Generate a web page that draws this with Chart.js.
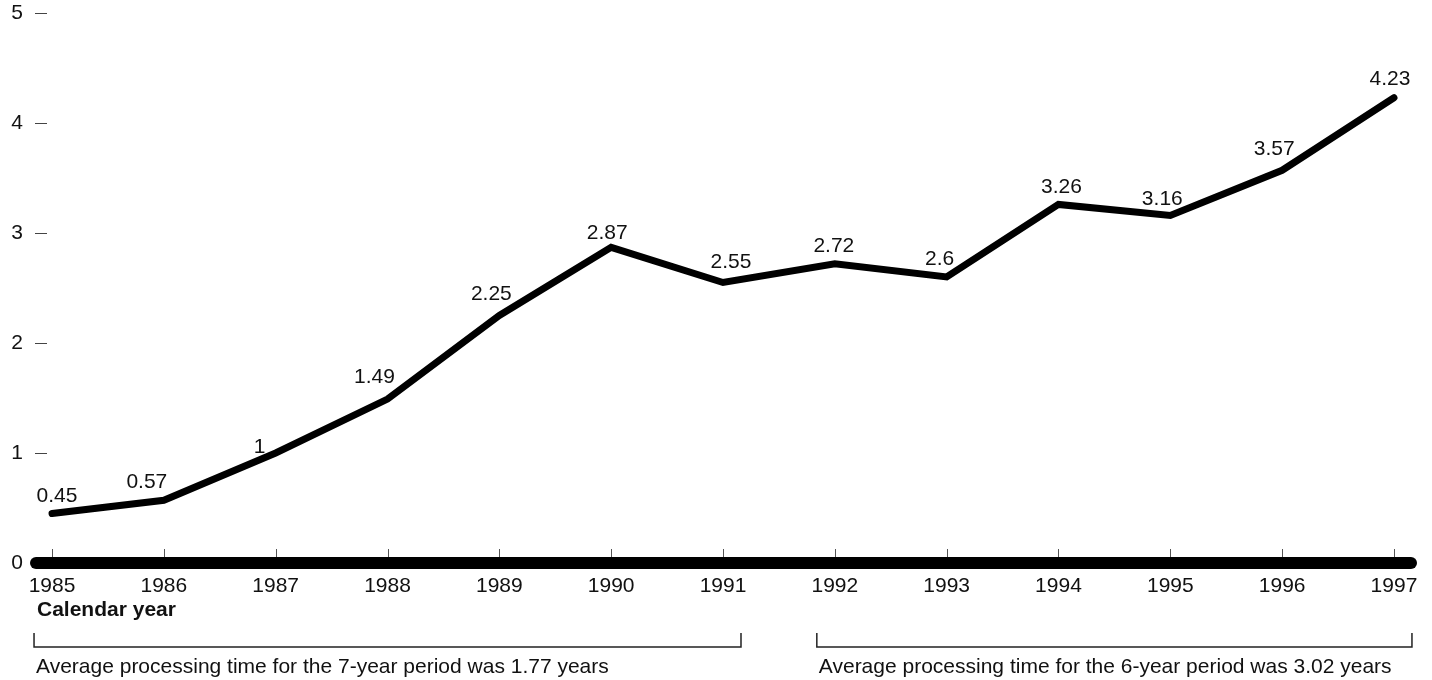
<!DOCTYPE html>
<html>
<head>
<meta charset="utf-8">
<script src="https://cdn.jsdelivr.net/npm/chart.js@4/dist/chart.umd.min.js"></script>
<style>
  html, body { margin: 0; padding: 0; background: #fff; }
  #wrap { width: 1432px; height: 680px; position: relative; }
</style>
</head>
<body>
<div id="wrap"><canvas id="grafik"></canvas></div>
<script>
const years = [1985, 1986, 1987, 1988, 1989, 1990, 1991, 1992, 1993, 1994, 1995, 1996, 1997];
const processingTime = [0.45, 0.57, 1, 1.49, 2.25, 2.87, 2.55, 2.72, 2.6, 3.26, 3.16, 3.57, 4.23];
const yTicks = [0, 1, 2, 3, 4, 5];
const xTitle = "Calendar year";
const periods = [
  { from: 1985, to: 1991, text: "Average processing time for the 7-year period was 1.77 years" },
  { from: 1992, to: 1997, text: "Average processing time for the 6-year period was 3.02 years" }
];

// label nudges (px) so numbers sit clear of the line like in the original
const labelDx = [5, -17, -16, -13, -8, -4, 8, -1, -7, 3, -8, -8, -4];
const labelDy = [-17, -18, -6, -22, -21, -14, -20, -18, -18, -17, -16, -21, -18];

const FONT = '21px "Liberation Sans", Arial, sans-serif';
const FONT_BOLD = 'bold 21px "Liberation Sans", Arial, sans-serif';

const dekor = {
  id: "dekor",
  beforeDatasetsDraw(chart) {
    const { ctx, chartArea, scales } = chart;
    const x = scales.x, y = scales.y;
    ctx.save();

    // y axis labels + little dashes
    ctx.font = FONT;
    ctx.fillStyle = "#111";
    ctx.textAlign = "right";
    ctx.textBaseline = "middle";
    yTicks.forEach(t => {
      const py = y.getPixelForValue(t);
      ctx.fillText(String(t), 23, py);
      if (t > 0) {
        ctx.strokeStyle = "#444";
        ctx.lineWidth = 1;
        ctx.beginPath();
        ctx.moveTo(35, Math.round(py) + 0.5);
        ctx.lineTo(47, Math.round(py) + 0.5);
        ctx.stroke();
      }
    });

    // small ticks above the baseline
    const y0 = y.getPixelForValue(0);
    ctx.strokeStyle = "#555";
    ctx.lineWidth = 1;
    years.forEach(yr => {
      const px = Math.round(x.getPixelForValue(yr)) + 0.5;
      ctx.beginPath();
      ctx.moveTo(px, y0 - 14);
      ctx.lineTo(px, y0 - 5);
      ctx.stroke();
    });

    // thick baseline
    ctx.strokeStyle = "#000";
    ctx.lineWidth = 12;
    ctx.lineCap = "round";
    ctx.beginPath();
    ctx.moveTo(chartArea.left + 6, y0);
    ctx.lineTo(chartArea.right - 6, y0);
    ctx.stroke();

    // year labels
    ctx.fillStyle = "#111";
    ctx.textAlign = "center";
    ctx.textBaseline = "middle";
    years.forEach(yr => ctx.fillText(String(yr), x.getPixelForValue(yr), y0 + 23));

    ctx.font = FONT_BOLD;
    ctx.textAlign = "left";
    ctx.fillText(xTitle, 37, y0 + 47);

    // period brackets and notes
    ctx.font = FONT;
    ctx.strokeStyle = "#222";
    ctx.lineWidth = 1.5;
    ctx.lineCap = "butt";
    periods.forEach(p => {
      const l = x.getPixelForValue(p.from) - 18;
      const r = x.getPixelForValue(p.to) + 18;
      const by = y0 + 84;
      ctx.beginPath();
      ctx.moveTo(l, by - 14);
      ctx.lineTo(l, by);
      ctx.lineTo(r, by);
      ctx.lineTo(r, by - 14);
      ctx.stroke();
      ctx.fillText(p.text, l + 2, y0 + 104);
    });

    ctx.restore();
  },
  afterDatasetsDraw(chart) {
    const { ctx, scales } = chart;
    ctx.save();
    ctx.font = FONT;
    ctx.fillStyle = "#111";
    ctx.textAlign = "center";
    ctx.textBaseline = "middle";
    processingTime.forEach((v, i) => {
      const px = scales.x.getPixelForValue(years[i]);
      const py = scales.y.getPixelForValue(v);
      ctx.fillText(String(v), px + labelDx[i], py + labelDy[i]);
    });
    ctx.restore();
  }
};

const ctx = document.getElementById("grafik").getContext("2d");
new Chart(ctx, {
  type: "line",
  data: {
    datasets: [{
      data: years.map((yr, i) => ({ x: yr, y: processingTime[i] })),
      borderColor: "#000",
      borderWidth: 7,
      borderCapStyle: "round",
      borderJoinStyle: "miter",
      pointRadius: 0,
      tension: 0,
      fill: false
    }]
  },
  options: {
    responsive: true,
    maintainAspectRatio: false,
    animation: false,
    layout: { padding: { left: 30, right: 15, top: 13, bottom: 117 } },
    plugins: { legend: { display: false }, tooltip: { enabled: false } },
    scales: {
      x: { type: "linear", min: 1984.803, max: 1997.206, display: false },
      y: { type: "linear", min: 0, max: 5, display: false }
    }
  },
  plugins: [dekor]
});
</script>
</body>
</html>
